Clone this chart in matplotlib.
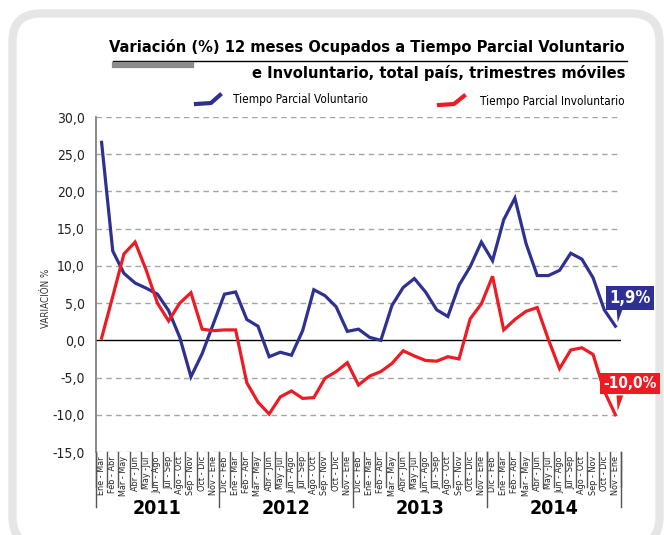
import matplotlib.pyplot as plt
from matplotlib.patches import FancyBboxPatch, Polygon
from matplotlib.lines import Line2D
import numpy as np

plt.rcParams['font.family'] = ['DejaVu Sans']
plt.rcParams['font.stretch'] = 'condensed'

# data
base_periods = ['Ene - Mar', 'Feb - Abr', 'Mar - May', 'Abr - Jun', 'May -Jul', 'Jun - Ago',
                'Jul - Sep', 'Ago - Oct', 'Sep - Nov', 'Oct - Dic', 'Nov - Ene']
periods = base_periods + (['Dic - Feb'] + base_periods) * 3
years = ['2011', '2012', '2013', '2014']
year_bounds = [-0.5, 10.5, 22.5, 34.5, 46.5]

voluntario = [26.6, 12.0, 9.0, 7.7, 7.0, 6.2, 4.0, 0.4, -4.9, -1.8,
              2.2, 6.2, 6.5, 2.8, 1.9, -2.2, -1.6, -2.0, 1.3, 6.8,
              6.0, 4.5, 1.2, 1.5, 0.4, 0.0, 4.7, 7.1, 8.3, 6.5,
              4.1, 3.2, 7.4, 9.9, 13.2, 10.7, 16.2, 19.1, 13.0, 8.7,
              8.7, 9.4, 11.7, 10.9, 8.4, 4.1, 1.9]
involuntario = [0.3, 5.9, 11.6, 13.2, 9.4, 5.0, 2.6, 5.0, 6.4, 1.5,
                1.3, 1.4, 1.4, -5.7, -8.3, -9.9, -7.6, -6.8, -7.8, -7.7,
                -5.1, -4.2, -3.0, -6.0, -4.8, -4.2, -3.1, -1.4, -2.1, -2.7,
                -2.8, -2.2, -2.5, 2.9, 4.9, 8.6, 1.4, 2.8, 3.9, 4.4,
                0.1, -3.8, -1.3, -1.0, -1.9, -6.8, -10.0]

blue = '#2e3192'
red = '#ed1c24'

fig = plt.figure(figsize=(6.64, 5.35), dpi=100)

# rounded panel frame
frame = FancyBboxPatch((0.125, -0.10), 6.47, 5.315,
                       boxstyle='round,pad=0,rounding_size=0.28',
                       transform=fig.dpi_scale_trans, fc='white', ec='#e6e6e6', lw=6,
                       zorder=-10)
fig.patches.append(frame)

ax = fig.add_axes([96/664, 1 - 452/535, (621 - 96)/664, (452 - 117)/535])
ax.patch.set_alpha(0)
x = np.arange(len(periods))

ax.plot(x, voluntario, color=blue, lw=2.3, solid_joinstyle='miter', zorder=3)
ax.plot(x, involuntario, color=red, lw=2.3, solid_joinstyle='miter', zorder=3)

ax.set_xlim(-0.5, 46.5)
ax.set_ylim(-15, 30)
yt = np.arange(-15, 31, 5)
ax.set_yticks(yt)
ax.set_yticklabels([f'{v:.1f}'.replace('.', ',') for v in yt], fontsize=10, color='#222222')
for v in yt:
    if v != 0:
        ax.axhline(v, color='#a5a5a5', lw=1, ls=(0, (4, 3)), zorder=1)
ax.axhline(0, color='black', lw=1, zorder=2)

for s in ['top', 'right', 'bottom']:
    ax.spines[s].set_visible(False)
ax.spines['left'].set_color('#777777')
ax.spines['left'].set_linewidth(1.2)
ax.tick_params(axis='y', length=0, pad=8)

ax.set_xticks(x)
ax.set_xticklabels(periods, rotation=90, fontsize=6.5, va='top', color='#222222')
ax.tick_params(axis='x', length=0, pad=3)

# separators below the axis
tr = ax.get_xaxis_transform()
for b in np.arange(-0.5, 47, 1):
    ax.plot([b, b], [0, -0.105], transform=tr, color='#555555', lw=1, clip_on=False)
for b in year_bounds:
    ax.plot([b, b], [0, -0.165], transform=tr, color='#555555', lw=1, clip_on=False)
for i, yr in enumerate(years):
    mid = (year_bounds[i] + year_bounds[i + 1]) / 2
    ax.text(mid, -0.168, yr, transform=tr, ha='center', va='center',
            fontsize=14, fontweight='bold')

ax.set_ylabel('VARIACIÓN %', fontsize=7, color='#333333', labelpad=4)
ax.yaxis.set_label_coords(-0.085, 0.46)

# end labels
ax.text(47.3, 5.7, '1,9%', ha='center', va='center', fontsize=12, fontweight='bold',
        color='white', bbox=dict(boxstyle='square,pad=0.2', fc=blue, ec='none'), zorder=5)
ax.add_patch(Polygon([[46.1, 4.4], [46.7, 4.4], [46.2, 2.4]], closed=True,
                     fc=blue, ec='none', clip_on=False, zorder=5))
ax.text(47.3, -5.8, '-10,0%', ha='center', va='center', fontsize=11, fontweight='bold',
        color='white', bbox=dict(boxstyle='square,pad=0.2', fc=red, ec='none'), zorder=5)
ax.add_patch(Polygon([[46.1, -7.4], [46.7, -7.4], [46.2, -9.5]], closed=True,
                     fc=red, ec='none', clip_on=False, zorder=5))

# title
fig.text(625/664, 1 - 47/535, 'Variación (%) 12 meses Ocupados a Tiempo Parcial Voluntario',
         ha='right', va='center', fontsize=11.8, fontweight='bold')
fig.text(625/664, 1 - 73/535, 'e Involuntario, total país, trimestres móviles',
         ha='right', va='center', fontsize=11.8, fontweight='bold')
fig.add_artist(Line2D([113/664, 627/664], [1 - 60.5/535] * 2, color='black', lw=1))
fig.add_artist(Line2D([115/664, 191/664], [1 - 64.5/535] * 2, color='#8a8a8c', lw=4.5))

# legend
fig.add_artist(Line2D([196/664, 211/664, 220/664], [1 - 104/535, 1 - 103/535, 1 - 95/535],
                      color=blue, lw=3))
fig.text(233/664, 1 - 100/535, 'Tiempo Parcial Voluntario', ha='left', va='center', fontsize=8.5)
fig.add_artist(Line2D([439/664, 454/664, 464/664], [1 - 105/535, 1 - 104/535, 1 - 96/535],
                      color=red, lw=3))
fig.text(480/664, 1 - 101/535, 'Tiempo Parcial Involuntario', ha='left', va='center', fontsize=8.5)

fig.savefig('out.png', dpi=100)
